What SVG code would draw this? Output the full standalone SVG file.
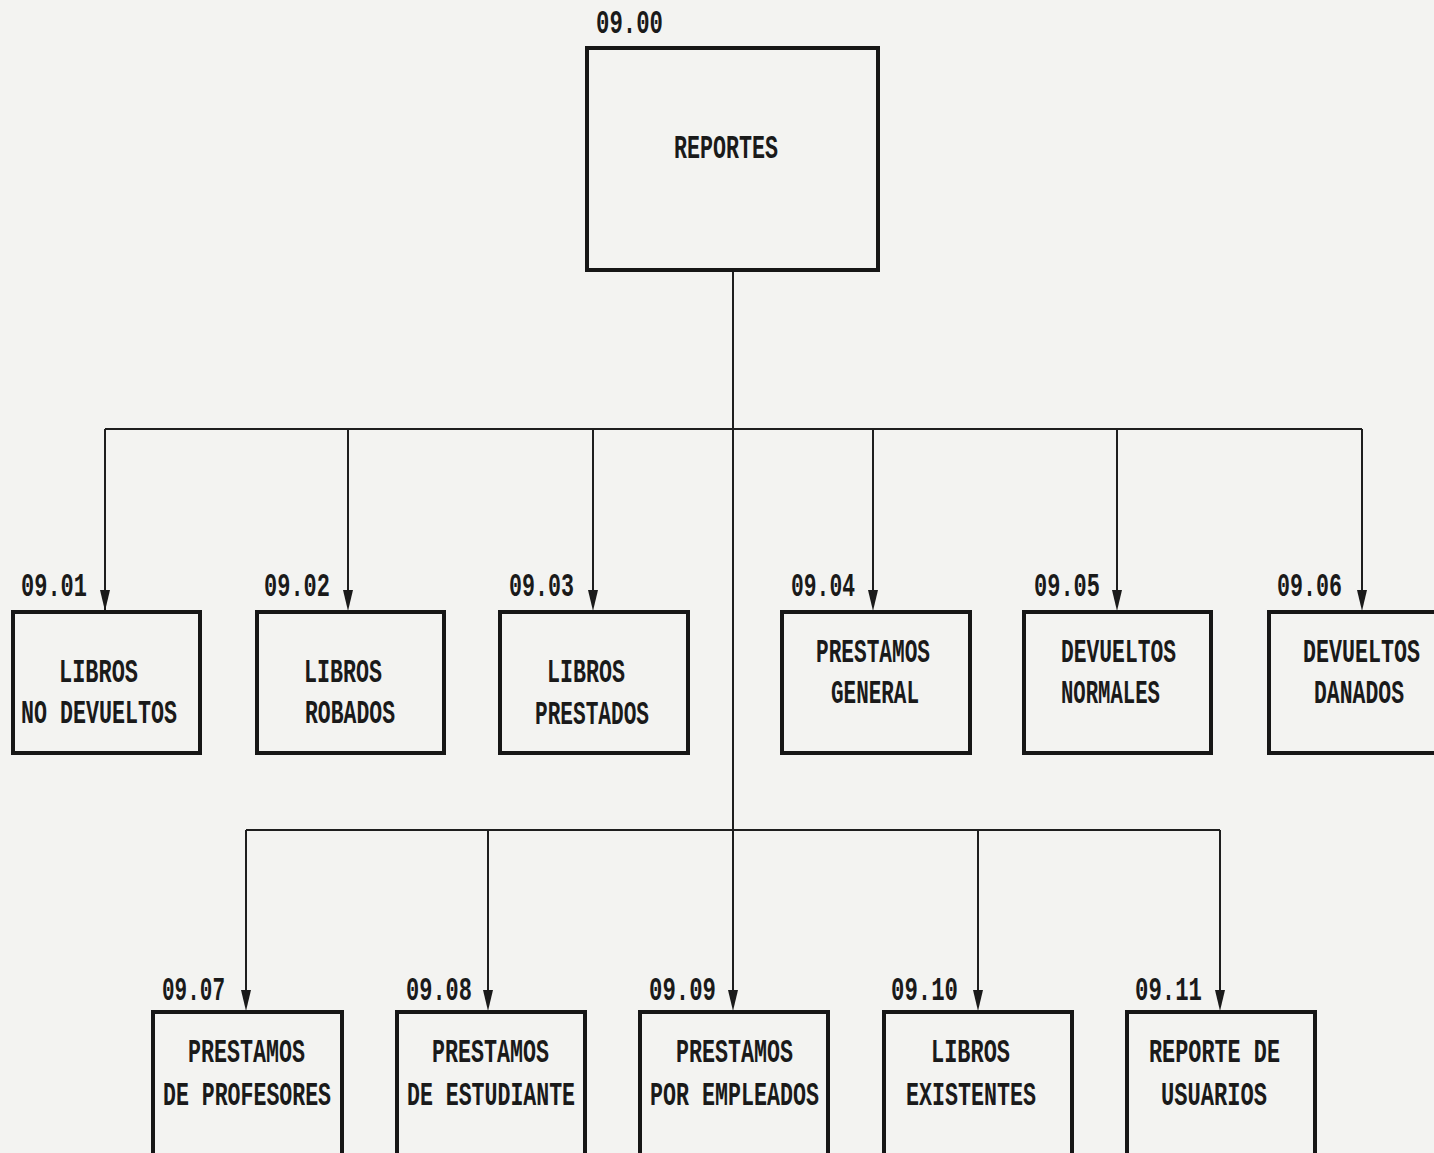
<svg xmlns="http://www.w3.org/2000/svg" width="1434" height="1153" viewBox="0 0 1434 1153">
<defs>
<style>
.box{fill:none;stroke:#161616;stroke-width:4}
.ln{fill:none;stroke:#1e1e1e;stroke-width:2}
text{font-family:"Liberation Mono","DejaVu Sans Mono",monospace;font-weight:bold;font-size:34px;fill:#1a1a1a}
</style>
<marker id="ah" viewBox="0 0 10 18" refX="5" refY="18" markerWidth="10" markerHeight="18" markerUnits="userSpaceOnUse" orient="auto-start-reverse">
<path d="M0,0 L10,0 L5,18 Z" fill="#1a1a1a"/>
</marker>
</defs>
<rect width="1434" height="1153" fill="#f3f3f1"/>
<g id="connectors">
<line class="ln" x1="733" y1="270" x2="733" y2="830"/>
<polyline class="ln" points="105,429 1362,429"/>
<polyline class="ln" points="246,830 1220,830"/>
<line class="ln" x1="105" y1="429" x2="105" y2="610" style="marker-end:none"/>
<path class="ln" d="M105,429 V596"/>
<path class="ln" d="M348,429 V596"/>
<path class="ln" d="M593,429 V596"/>
<path class="ln" d="M873,429 V596"/>
<path class="ln" d="M1117,429 V596"/>
<path class="ln" d="M1362,429 V596"/>
<path class="ln" d="M246,830 V996"/>
<path class="ln" d="M488,830 V996"/>
<path class="ln" d="M733,830 V996"/>
<path class="ln" d="M978,830 V996"/>
<path class="ln" d="M1220,830 V996"/>
<g fill="#1a1a1a">
<path d="M100,590 L110,590 L105,611 Z"/>
<path d="M343,590 L353,590 L348,611 Z"/>
<path d="M588,590 L598,590 L593,611 Z"/>
<path d="M868,590 L878,590 L873,611 Z"/>
<path d="M1112,590 L1122,590 L1117,611 Z"/>
<path d="M1357,590 L1367,590 L1362,611 Z"/>
<path d="M241,990 L251,990 L246,1011 Z"/>
<path d="M483,990 L493,990 L488,1011 Z"/>
<path d="M728,990 L738,990 L733,1011 Z"/>
<path d="M973,990 L983,990 L978,1011 Z"/>
<path d="M1215,990 L1225,990 L1220,1011 Z"/>
</g>
</g>
<g id="n0900">
<rect class="box" x="587" y="48" width="291" height="222"/>
<text x="596" y="33" textLength="67" lengthAdjust="spacingAndGlyphs">09.00</text>
<text x="674" y="158" textLength="104" lengthAdjust="spacingAndGlyphs">REPORTES</text>
</g>
<g id="n0901">
<rect class="box" x="13" y="612" width="187" height="141"/>
<text x="21" y="596" textLength="66" lengthAdjust="spacingAndGlyphs">09.01</text>
<text x="59" y="682" textLength="79" lengthAdjust="spacingAndGlyphs">LIBROS</text>
<text x="21" y="723" textLength="156" lengthAdjust="spacingAndGlyphs">NO DEVUELTOS</text>
</g>
<g id="n0902">
<rect class="box" x="257" y="612" width="187" height="141"/>
<text x="264" y="596" textLength="66" lengthAdjust="spacingAndGlyphs">09.02</text>
<text x="304" y="682" textLength="78" lengthAdjust="spacingAndGlyphs">LIBROS</text>
<text x="305" y="723" textLength="90" lengthAdjust="spacingAndGlyphs">ROBADOS</text>
</g>
<g id="n0903">
<rect class="box" x="500" y="612" width="188" height="141"/>
<text x="509" y="596" textLength="65" lengthAdjust="spacingAndGlyphs">09.03</text>
<text x="547" y="682" textLength="78" lengthAdjust="spacingAndGlyphs">LIBROS</text>
<text x="535" y="724" textLength="114" lengthAdjust="spacingAndGlyphs">PRESTADOS</text>
</g>
<g id="n0904">
<rect class="box" x="782" y="612" width="188" height="141"/>
<text x="791" y="596" textLength="64" lengthAdjust="spacingAndGlyphs">09.04</text>
<text x="816" y="662" textLength="114" lengthAdjust="spacingAndGlyphs">PRESTAMOS</text>
<text x="831" y="703" textLength="88" lengthAdjust="spacingAndGlyphs">GENERAL</text>
</g>
<g id="n0905">
<rect class="box" x="1024" y="612" width="187" height="141"/>
<text x="1034" y="596" textLength="66" lengthAdjust="spacingAndGlyphs">09.05</text>
<text x="1061" y="662" textLength="115" lengthAdjust="spacingAndGlyphs">DEVUELTOS</text>
<text x="1061" y="703" textLength="99" lengthAdjust="spacingAndGlyphs">NORMALES</text>
</g>
<g id="n0906">
<rect class="box" x="1269" y="612" width="190" height="141"/>
<text x="1277" y="596" textLength="65" lengthAdjust="spacingAndGlyphs">09.06</text>
<text x="1303" y="662" textLength="117" lengthAdjust="spacingAndGlyphs">DEVUELTOS</text>
<text x="1314" y="703" textLength="90" lengthAdjust="spacingAndGlyphs">DANADOS</text>
</g>
<g id="n0907">
<rect class="box" x="153" y="1012" width="189" height="160"/>
<text x="162" y="1000" textLength="63" lengthAdjust="spacingAndGlyphs">09.07</text>
<text x="188" y="1062" textLength="117" lengthAdjust="spacingAndGlyphs">PRESTAMOS</text>
<text x="163" y="1105" textLength="168" lengthAdjust="spacingAndGlyphs">DE PROFESORES</text>
</g>
<g id="n0908">
<rect class="box" x="397" y="1012" width="188" height="160"/>
<text x="406" y="1000" textLength="66" lengthAdjust="spacingAndGlyphs">09.08</text>
<text x="432" y="1062" textLength="117" lengthAdjust="spacingAndGlyphs">PRESTAMOS</text>
<text x="407" y="1105" textLength="168" lengthAdjust="spacingAndGlyphs">DE ESTUDIANTE</text>
</g>
<g id="n0909">
<rect class="box" x="640" y="1012" width="188" height="160"/>
<text x="649" y="1000" textLength="67" lengthAdjust="spacingAndGlyphs">09.09</text>
<text x="676" y="1062" textLength="117" lengthAdjust="spacingAndGlyphs">PRESTAMOS</text>
<text x="650" y="1105" textLength="169" lengthAdjust="spacingAndGlyphs">POR EMPLEADOS</text>
</g>
<g id="n0910">
<rect class="box" x="884" y="1012" width="188" height="160"/>
<text x="891" y="1000" textLength="67" lengthAdjust="spacingAndGlyphs">09.10</text>
<text x="931" y="1062" textLength="79" lengthAdjust="spacingAndGlyphs">LIBROS</text>
<text x="906" y="1105" textLength="130" lengthAdjust="spacingAndGlyphs">EXISTENTES</text>
</g>
<g id="n0911">
<rect class="box" x="1127" y="1012" width="188" height="160"/>
<text x="1135" y="1000" textLength="67" lengthAdjust="spacingAndGlyphs">09.11</text>
<text x="1149" y="1062" textLength="131" lengthAdjust="spacingAndGlyphs">REPORTE DE</text>
<text x="1161" y="1105" textLength="106" lengthAdjust="spacingAndGlyphs">USUARIOS</text>
</g>
</svg>
